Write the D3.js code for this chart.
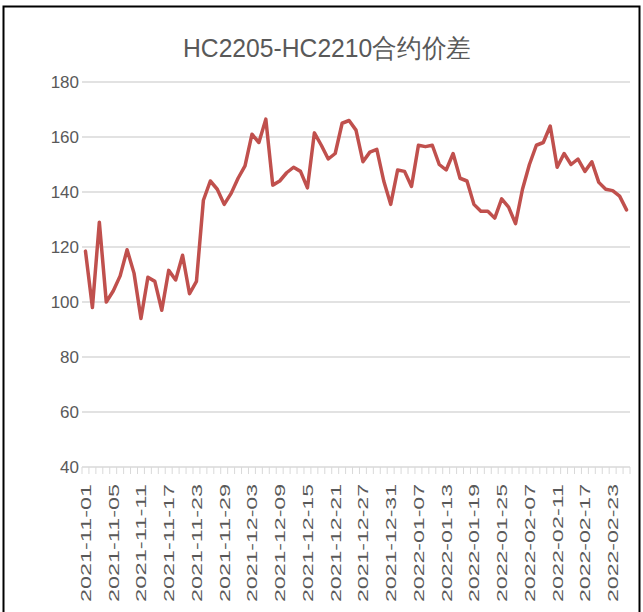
<!DOCTYPE html>
<html>
<head>
<meta charset="utf-8">
<script src="https://cdn.jsdelivr.net/npm/d3@7"></script>
<style>
  body { margin: 0; background: #fff; }
  text { font-family: "Liberation Sans", Arial, sans-serif; fill: #595959; }
</style>
</head>
<body>
<svg id="chart" width="643" height="612"></svg>
<script>
// trading days shown on the category axis
const dates = [
  '2021-11-01','2021-11-02','2021-11-03','2021-11-04','2021-11-05','2021-11-08','2021-11-09','2021-11-10','2021-11-11','2021-11-12',
  '2021-11-15','2021-11-16','2021-11-17','2021-11-18','2021-11-19','2021-11-22','2021-11-23','2021-11-24','2021-11-25','2021-11-26',
  '2021-11-29','2021-11-30','2021-12-01','2021-12-02','2021-12-03','2021-12-06','2021-12-07','2021-12-08','2021-12-09','2021-12-10',
  '2021-12-13','2021-12-14','2021-12-15','2021-12-16','2021-12-17','2021-12-20','2021-12-21','2021-12-22','2021-12-23','2021-12-24',
  '2021-12-27','2021-12-28','2021-12-29','2021-12-30','2021-12-31','2022-01-04','2022-01-05','2022-01-06','2022-01-07','2022-01-10',
  '2022-01-11','2022-01-12','2022-01-13','2022-01-14','2022-01-17','2022-01-18','2022-01-19','2022-01-20','2022-01-21','2022-01-24',
  '2022-01-25','2022-01-26','2022-01-27','2022-01-28','2022-02-07','2022-02-08','2022-02-09','2022-02-10','2022-02-11','2022-02-14',
  '2022-02-15','2022-02-16','2022-02-17','2022-02-18','2022-02-21','2022-02-22','2022-02-23','2022-02-24','2022-02-25'
];

// HC2205 - HC2210 spread
const spread = [
  118.5, 98, 129, 100, 104, 109.5, 119, 110.5, 94, 109,
  107.5, 97, 111.5, 108, 117, 103, 107.5, 137, 144, 141,
  135.5, 139.5, 145, 149.5, 161, 158, 166.5, 142.5, 144, 147,
  149, 147.5, 141.5, 161.5, 157, 152, 154, 165, 166, 162.5,
  151, 154.5, 155.5, 144, 135.5, 148, 147.5, 142, 157, 156.5,
  157, 150, 148, 154, 145, 144, 135.5, 133, 133, 130.5,
  137.5, 134.5, 128.5, 141, 150, 157, 158, 164, 149, 154,
  150, 152, 147.5, 151, 143.5, 141, 140.5, 138.5, 133.5
];

const yTicks = [40, 60, 80, 100, 120, 140, 160, 180];
// every 4th trading day gets a label
const xLabels = dates.filter((d, i) => i % 4 === 0);

const svg = d3.select('#chart');

// outer frame
svg.append('rect')
  .attr('x', 3.5).attr('y', 6.5)
  .attr('width', 636).attr('height', 620)
  .attr('fill', 'none')
  .attr('stroke', '#000')
  .attr('stroke-width', 2);

svg.append('text')
  .attr('x', 327).attr('y', 57)
  .attr('text-anchor', 'middle')
  .attr('font-size', 26)
  .attr('textLength', 288)
  .attr('lengthAdjust', 'spacingAndGlyphs')
  .text('HC2205-HC2210合约价差');

const plotL = 82, plotR = 630, plotT = 82, plotB = 467;

const x = d3.scaleBand().domain(dates).range([plotL, plotR]);
const y = d3.scaleLinear().domain([40, 180]).range([plotB, plotT]);

// gridlines
svg.append('g')
  .selectAll('line')
  .data(yTicks.filter(v => v > 40))
  .enter()
  .append('line')
  .attr('x1', plotL).attr('x2', plotR)
  .attr('y1', d => y(d)).attr('y2', d => y(d))
  .attr('stroke', '#d9d9d9')
  .attr('stroke-width', 1.3);

// y labels
const yAxis = svg.append('g')
  .attr('transform', 'translate(' + 79 + ',0)')
  .call(d3.axisLeft(y).tickValues(yTicks).tickSize(0).tickPadding(0));
yAxis.select('.domain').remove();
yAxis.selectAll('text')
  .attr('font-size', 17)
  .style('font-family', '"Liberation Sans", Arial, sans-serif')
  .attr('fill', '#595959');

// x axis line and boundary ticks
svg.append('line')
  .attr('x1', plotL).attr('x2', plotR)
  .attr('y1', plotB).attr('y2', plotB)
  .attr('stroke', '#d9d9d9')
  .attr('stroke-width', 1.3);

const bounds = dates.map(d => x(d)).concat([plotR]);
svg.append('g')
  .selectAll('line')
  .data(bounds)
  .enter()
  .append('line')
  .attr('x1', d => d).attr('x2', d => d)
  .attr('y1', plotB).attr('y2', plotB + 7)
  .attr('stroke', '#d9d9d9')
  .attr('stroke-width', 1);

// x labels, rotated
const xAxis = svg.append('g')
  .attr('transform', 'translate(0,' + 484 + ')')
  .call(d3.axisBottom(x).tickValues(xLabels).tickSize(0).tickPadding(0));
xAxis.select('.domain').remove();
xAxis.selectAll('text')
  .attr('transform', 'rotate(-90)')
  .attr('text-anchor', 'end')
  .attr('x', 0).attr('y', 0)
  .attr('dy', '0.36em')
  .attr('font-size', 15)
  .attr('textLength', 118)
  .attr('lengthAdjust', 'spacingAndGlyphs')
  .style('font-family', '"Liberation Sans", Arial, sans-serif')
  .attr('fill', '#595959');

// spread line
const line = d3.line()
  .x((d, i) => x(dates[i]) + x.bandwidth() / 2)
  .y(d => y(d));

svg.append('path')
  .datum(spread)
  .attr('d', line)
  .attr('fill', 'none')
  .attr('stroke', '#c0504d')
  .attr('stroke-width', 3.5)
  .attr('stroke-linejoin', 'round')
  .attr('stroke-linecap', 'round');
</script>
</body>
</html>
